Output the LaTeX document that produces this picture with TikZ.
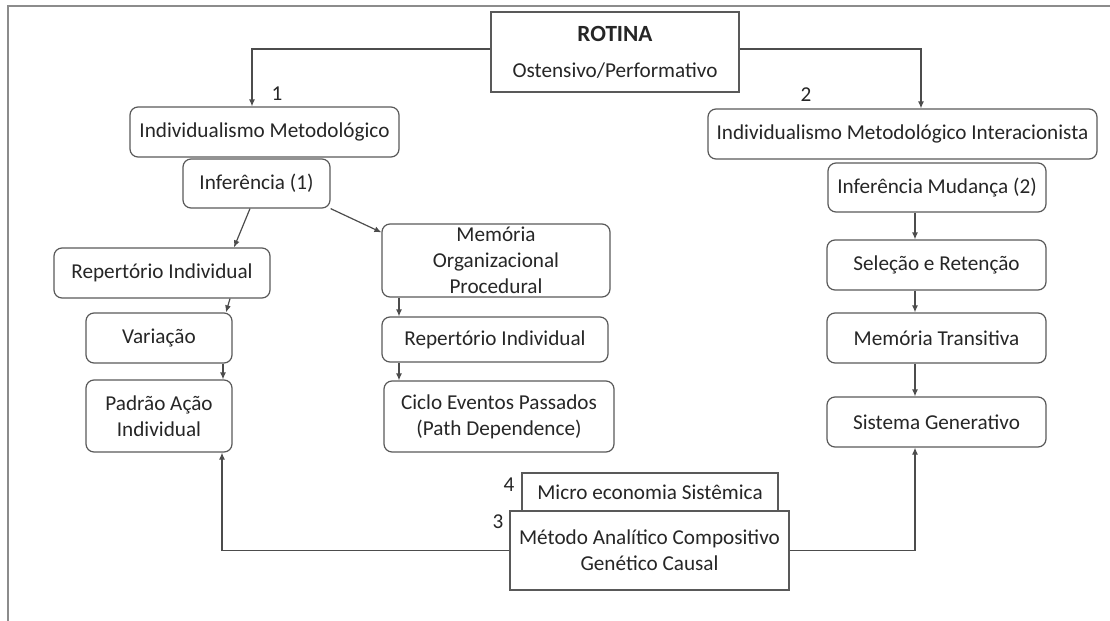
\documentclass[tikz,border=0pt]{standalone}
\usepackage{fontspec}
\setmainfont{Carlito}
\usetikzlibrary{arrows.meta}

\begin{document}
\begin{tikzpicture}[x=0.5pt,y=-0.5pt,
        font=\fontsize{10.6}{13}\selectfont, text=black!85,
        rbox/.style={draw=black!65,line width=0.6pt,rounded corners=4pt,align=center,inner sep=0pt},
        sbox/.style={draw=black!65,line width=0.6pt,align=center,inner sep=0pt,fill=white},
        arr/.style={draw=black!70,line width=0.6pt,-{Latex[length=3.5pt,width=3pt]}},
        num/.style={inner sep=0pt}]
    \useasboundingbox (0,0) rectangle (1110,621);
    \draw[black!45,line width=0.6pt] (1110,6) -- (8,6) -- (8,621);
    \node[sbox,minimum width=124pt,minimum height=40pt] (rotina) at (615,52) {{\fontsize{11.6}{13}\selectfont\textbf{ROTINA}}\\[5pt]Ostensivo/Performativo};
    \node[rbox,minimum width=134.5pt,minimum height=25pt] (im) at (264.5,132) {Individualismo Metodológico};
    \node[rbox,minimum width=73.5pt,minimum height=24.5pt] (inf1) at (256.5,183.5) {Inferência (1)};
    \node[rbox,minimum width=194.5pt,minimum height=25pt] (imi) at (902.5,134) {Individualismo Metodológico Interacionista};
    \node[rbox,minimum width=109pt,minimum height=24.5pt] (infm) at (937,187.5) {Inferência Mudança (2)};
    \node[rbox,minimum width=108pt,minimum height=25pt] (repl) at (162,273) {Repertório Individual};
    \node[rbox,minimum width=73pt,minimum height=25pt] (var) at (159,338) {Variação};
    \node[rbox,minimum width=73pt,minimum height=36pt] (padrao) at (159,416) {Padrão Ação\\Individual};
    \node[rbox,minimum width=114pt,minimum height=36.5pt] (memo) at (496,260.5) {Memória\\Organizacional\\Procedural};
    \node[rbox,minimum width=113pt,minimum height=22.5pt] (repm) at (495,339.5) {Repertório Individual};
    \node[rbox,minimum width=115pt,minimum height=35.5pt] (ciclo) at (499,416.5) {Ciclo Eventos Passados\\(Path Dependence)};
    \node[rbox,minimum width=109.5pt,minimum height=25pt] (sel) at (936.5,265) {Seleção e Retenção};
    \node[rbox,minimum width=109.5pt,minimum height=25pt] (mt) at (936.5,338) {Memória Transitiva};
    \node[rbox,minimum width=109.5pt,minimum height=25pt] (sg) at (936.5,422) {Sistema Generativo};
    \node[sbox,minimum width=128pt,minimum height=19pt] (micro) at (650,492) {Micro economia Sistêmica};
    \node[sbox,minimum width=139.5pt,minimum height=39.5pt] (metodo) at (649.5,550.5) {Método Analítico Compositivo\\Genético Causal};
    \node[num] (n1) at (277,94) {1};
    \node[num] (n2) at (806,95) {2};
    \node[num] (n4) at (509,485) {4};
    \node[num] (n3) at (498,522) {3};
    \draw[arr] ([yshift=1.5pt]rotina.west) -| ([xshift=-6.25pt]im.north);
    \draw[arr] ([yshift=1.5pt]rotina.east) -| ([xshift=9.25pt]imi.north);
    \draw[arr] ([xshift=-3.25pt]inf1.south) -- ([xshift=36pt]repl.north);
    \draw[arr] (inf1.south east) -- ([yshift=-4.5pt]memo.north west);
    \draw[arr] ([xshift=34pt]repl.south) -- ([xshift=33.5pt]var.north);
    \draw[arr] ([xshift=32pt]var.south) -- ([xshift=32pt]padrao.north);
    \draw[arr] ([xshift=-48.5pt]memo.south) -- ([xshift=-48pt]repm.north);
    \draw[arr] ([xshift=-48pt]repm.south) -- ([xshift=-50pt]ciclo.north);
    \draw[arr] ([xshift=-11pt]infm.south) -- ([xshift=-10.75pt]sel.north);
    \draw[arr] ([xshift=-10.75pt]sel.south) -- ([xshift=-10.75pt]mt.north);
    \draw[arr] ([xshift=-10.75pt]mt.south) -- ([xshift=-10.75pt]sg.north);
    \draw[arr] (metodo.west) -| ([xshift=31.5pt]padrao.south);
    \draw[arr] (metodo.east) -| ([xshift=-10.75pt]sg.south);
\end{tikzpicture}
\end{document}
